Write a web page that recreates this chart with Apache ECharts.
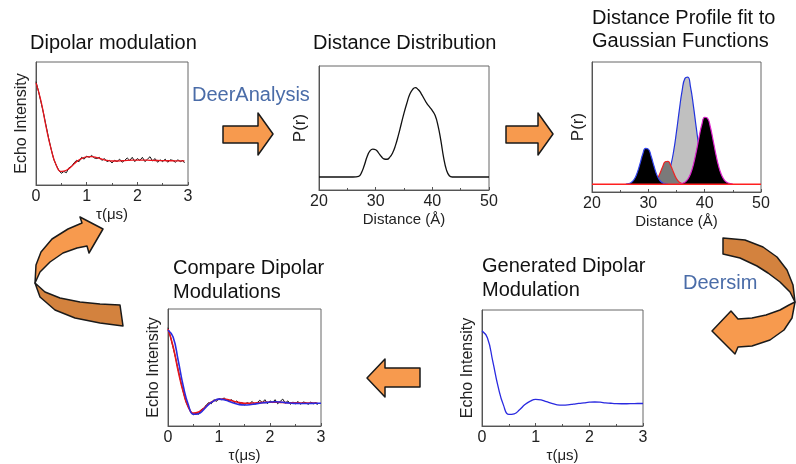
<!DOCTYPE html>
<html>
<head>
<meta charset="utf-8">
<script src="https://cdn.jsdelivr.net/npm/echarts@6/dist/echarts.min.js"></script>
<style>
  html, body { margin: 0; padding: 0; background: #fff; }
  #main { width: 796px; height: 464px; }
</style>
</head>
<body>
<div id="main"></div>
<script>
// time axis (us) and distance axis (A) tick labels
var timeTicks = [0, 1, 2, 3];
var distTicks = [20, 30, 40, 50];

// dipolar modulation: noisy experiment (black), fit (red)
var expTime = [0, 0.05, 0.1, 0.15, 0.2, 0.25, 0.3, 0.35, 0.4, 0.45, 0.5, 0.55, 0.6, 0.65, 0.7, 0.75, 0.8, 0.85, 0.9, 0.95,
  1.0, 1.05, 1.1, 1.15, 1.2, 1.25, 1.3, 1.35, 1.4, 1.45, 1.5, 1.55, 1.6, 1.65, 1.7, 1.75, 1.8, 1.85, 1.9, 1.95,
  2.0, 2.05, 2.1, 2.15, 2.2, 2.25, 2.3, 2.35, 2.4, 2.45, 2.5, 2.55, 2.6, 2.65, 2.7, 2.75, 2.8, 2.85, 2.9, 2.93];
var expEcho = [0.84, 0.76, 0.67, 0.58, 0.48, 0.38, 0.29, 0.21, 0.16, 0.12, 0.095, 0.11, 0.10, 0.14, 0.15, 0.18, 0.20, 0.19, 0.225, 0.21,
  0.235, 0.225, 0.24, 0.22, 0.215, 0.225, 0.20, 0.215, 0.19, 0.20, 0.18, 0.20, 0.19, 0.21, 0.185, 0.20, 0.22, 0.20, 0.225, 0.19,
  0.215, 0.20, 0.225, 0.19, 0.21, 0.23, 0.195, 0.215, 0.185, 0.205, 0.19, 0.21, 0.185, 0.205, 0.20, 0.185, 0.205, 0.19, 0.20, 0.18];
var fitTime = [0, 0.1, 0.2, 0.3, 0.4, 0.5, 0.6, 0.7, 0.8, 0.9, 1.0, 1.1, 1.2, 1.3, 1.4, 1.5, 1.6, 1.7, 1.8, 1.9,
  2.0, 2.1, 2.2, 2.3, 2.4, 2.5, 2.6, 2.7, 2.8, 2.93];
var fitEcho = [0.83, 0.68, 0.47, 0.29, 0.16, 0.11, 0.12, 0.15, 0.19, 0.215, 0.228, 0.23, 0.222, 0.21, 0.20, 0.195, 0.195, 0.197, 0.20, 0.202,
  0.203, 0.203, 0.202, 0.20, 0.199, 0.198, 0.197, 0.197, 0.196, 0.196];

// generated (Deersim) modulation, blue
var simTime = [0, 0.1, 0.2, 0.3, 0.4, 0.5, 0.6, 0.7, 0.8, 0.9, 1.0, 1.1, 1.2, 1.3, 1.4, 1.5, 1.6, 1.7, 1.8, 1.9,
  2.0, 2.1, 2.2, 2.3, 2.4, 2.5, 2.6, 2.7, 2.8, 2.9, 3.0];
var simEcho = [0.82, 0.76, 0.56, 0.34, 0.18, 0.10, 0.105, 0.14, 0.185, 0.215, 0.23, 0.225, 0.21, 0.195, 0.183, 0.18, 0.182, 0.188, 0.195, 0.20,
  0.205, 0.207, 0.205, 0.20, 0.196, 0.193, 0.192, 0.192, 0.193, 0.194, 0.194];

// distance distribution P(r)
var distR = [20, 24, 26, 27, 27.5, 28, 28.5, 29, 29.5, 30, 30.5, 31, 31.5, 32, 32.5, 33, 33.5, 34, 34.5, 35, 35.5, 36, 36.5, 37,
  37.5, 38, 38.5, 39, 39.5, 40, 40.5, 41, 41.5, 42, 42.5, 43, 43.5, 50];
var distP = [0.105, 0.105, 0.105, 0.11, 0.14, 0.2, 0.27, 0.315, 0.33, 0.325, 0.3, 0.27, 0.25, 0.248, 0.265, 0.3, 0.36, 0.44, 0.53, 0.62, 0.7, 0.77, 0.81, 0.825,
  0.81, 0.78, 0.74, 0.70, 0.67, 0.64, 0.60, 0.52, 0.40, 0.26, 0.16, 0.115, 0.105, 0.105];

// gaussian components
var baseP = 0.06;
var g1R = [26, 26.5, 27, 27.5, 28, 28.5, 29, 29.5, 30, 30.5, 31, 31.5, 32, 32.5, 33, 33.5];
var g1P = [0.061, 0.064, 0.074, 0.098, 0.145, 0.214, 0.29, 0.335, 0.33, 0.275, 0.20, 0.133, 0.091, 0.071, 0.063, 0.06];
var g2R = [30.5, 31, 31.5, 32, 32.5, 33, 33.5, 34, 34.5, 35, 35.5, 36, 36.5];
var g2P = [0.064, 0.073, 0.096, 0.137, 0.19, 0.232, 0.236, 0.20, 0.148, 0.102, 0.076, 0.065, 0.06];
var g3R = [32.5, 33, 33.5, 34, 34.5, 35, 35.5, 36, 36.5, 37, 37.5, 38, 38.5, 39, 39.5, 40, 40.5, 41, 41.5];
var g3P = [0.074, 0.094, 0.134, 0.206, 0.316, 0.464, 0.63, 0.78, 0.874, 0.883, 0.804, 0.663, 0.497, 0.343, 0.224, 0.145, 0.10, 0.076, 0.066];
var g4R = [35.5, 36, 36.5, 37, 37.5, 38, 38.5, 39, 39.5, 40, 40.5, 41, 41.5, 42, 42.5, 43, 43.5, 44, 44.5, 45];
var g4P = [0.062, 0.066, 0.076, 0.098, 0.141, 0.211, 0.309, 0.42, 0.519, 0.575, 0.568, 0.502, 0.398, 0.288, 0.195, 0.13, 0.092, 0.073, 0.065, 0.061];

function pairs(xs, ys) {
  return xs.map(function (x, i) { return [x, ys[i]]; });
}

var FONT = 'Liberation Sans, Arial, sans-serif';
var ORANGE = '#f79a4e';
var ORANGE_DK = '#d3823e';
var BLUE_TXT = '#4a6ca8';

function xAxisOf(grid, ticks, name, gap) {
  return {
    type: 'value', gridIndex: grid,
    min: ticks[0], max: ticks[ticks.length - 1], interval: ticks[1] - ticks[0],
    name: name, nameLocation: 'middle', nameGap: gap,
    nameTextStyle: { fontFamily: FONT, fontSize: 15, color: '#222' },
    axisLine: { lineStyle: { color: '#555' } },
    axisTick: { inside: true, length: 3, lineStyle: { color: '#555' } },
    minorTick: { show: true, splitNumber: 2, length: 2, lineStyle: { color: '#555' } },
    axisLabel: { fontFamily: FONT, fontSize: 16, color: '#222', margin: 4 },
    splitLine: { show: false }
  };
}
function yAxisOf(grid, name, gap, size) {
  return {
    type: 'value', gridIndex: grid, min: 0, max: 1,
    name: name, nameLocation: 'middle', nameGap: gap,
    nameTextStyle: { fontFamily: FONT, fontSize: size, color: '#222' },
    axisLine: { show: true, lineStyle: { color: '#555' } },
    axisTick: { show: false }, axisLabel: { show: false },
    splitLine: { show: false }
  };
}
function line(grid, data, color, width, smooth, z) {
  return {
    type: 'line', xAxisIndex: grid, yAxisIndex: grid, data: data,
    smooth: smooth, showSymbol: false, symbol: 'none', z: z || 2,
    lineStyle: { color: color, width: width }
  };
}
function gauss(data, fill, edge, z) {
  return {
    type: 'line', xAxisIndex: 2, yAxisIndex: 2, data: data, smooth: true,
    symbol: 'none', z: z,
    lineStyle: { color: edge, width: 1.2 },
    areaStyle: { color: fill, opacity: 1, origin: baseP }
  };
}
function txt(x, y, s, size, color) {
  return { type: 'text', left: x, top: y, z: 10,
    style: { text: s, fontFamily: FONT, fontSize: size, fill: color || '#111' } };
}
function poly(points, fill) {
  return { type: 'polygon', z: 5,
    shape: { points: points },
    style: { fill: fill, stroke: '#1a1a1a', lineWidth: 1.5, lineJoin: 'round' } };
}

var grids = [
  { left: 36, top: 62, width: 152, height: 123 },
  { left: 319, top: 66, width: 170, height: 124 },
  { left: 592, top: 62, width: 169, height: 130 },
  { left: 482, top: 310, width: 161, height: 120 },
  { left: 168, top: 309, width: 153, height: 121 }
].map(function (g) {
  g.show = true; g.borderColor = '#666'; g.borderWidth = 1; g.containLabel = false;
  return g;
});

var myChart = echarts.init(document.getElementById('main'));
var option = {
  backgroundColor: '#fff',
  animation: false,
  grid: grids,
  xAxis: [
    xAxisOf(0, timeTicks, 'τ(μs)', 22),
    xAxisOf(1, distTicks, 'Distance (Å)', 22),
    xAxisOf(2, distTicks, 'Distance (Å)', 22),
    xAxisOf(3, timeTicks, 'τ(μs)', 22),
    xAxisOf(4, timeTicks, 'τ(μs)', 22)
  ],
  yAxis: [
    yAxisOf(0, 'Echo Intensity', 6, 16),
    yAxisOf(1, 'P(r)', 10, 17),
    yAxisOf(2, 'P(r)', 5, 17),
    yAxisOf(3, 'Echo Intensity', 6, 16),
    yAxisOf(4, 'Echo Intensity', 6, 16)
  ],
  series: [
    line(0, pairs(expTime, expEcho), '#111', 1, false, 2),
    line(0, pairs(fitTime, fitEcho), '#e8141c', 1.3, true, 3),

    line(1, pairs(distR, distP), '#111', 1.3, true, 2),

    gauss(pairs(g3R, g3P), '#c0c0c0', '#2233dd', 2),
    gauss(pairs(g2R, g2P), '#7a7a7a', '#ee2222', 3),
    gauss(pairs(g1R, g1P), '#000', '#3344ee', 4),
    gauss(pairs(g4R, g4P), '#000', '#dd22cc', 4),
    line(2, [[20, baseP], [50, baseP]], '#ff2020', 1.5, false, 6),

    line(3, pairs(simTime, simEcho), '#2a2ae0', 1.3, true, 2),

    line(4, pairs(expTime, expEcho), '#111', 1, false, 2),
    line(4, pairs(fitTime, fitEcho), '#e8141c', 1.6, true, 3),
    line(4, pairs(simTime, simEcho), '#2a2ae0', 1.6, true, 4)
  ],
  graphic: [
    txt(30, 33, 'Dipolar modulation', 20),
    txt(313, 33, 'Distance Distribution', 20),
    txt(592, 8, 'Distance Profile fit to', 20),
    txt(592, 31, 'Gaussian Functions', 20),
    txt(173, 258, 'Compare Dipolar', 20),
    txt(173, 282, 'Modulations', 20),
    txt(482, 256, 'Generated Dipolar', 20),
    txt(482, 280, 'Modulation', 20),
    txt(192, 85, 'DeerAnalysis', 20, BLUE_TXT),
    txt(683, 273, 'Deersim', 20, BLUE_TXT),

    // straight arrows
    poly([[223, 126], [258, 126], [258, 113], [273, 134], [258, 155], [258, 143], [223, 143]], ORANGE),
    poly([[506, 126], [538, 126], [538, 113], [553, 134], [538, 155], [538, 143], [506, 143]], ORANGE),
    poly([[367, 378], [385, 359], [385, 368], [420, 368], [420, 387], [385, 387], [385, 397]], ORANGE),

    // left curved arrow
    poly([[35, 283], [40, 297], [55, 310], [75, 318], [100, 323], [123, 326], [120, 305], [100, 304], [80, 302], [60, 298], [45, 292]], ORANGE_DK),
    poly([[103, 229], [89, 253], [87, 246], [77, 248], [63, 253], [50, 262], [40, 272], [35, 283], [36, 265], [41, 252], [52, 239], [68, 229], [82, 223], [80, 217]], ORANGE),

    // right curved arrow
    poly([[723, 238], [745, 240], [763, 247], [777, 257], [787, 270], [793, 285], [795, 302], [790, 292], [780, 282], [768, 273], [757, 266], [740, 258], [723, 254]], ORANGE_DK),
    poly([[795, 302], [792, 318], [784, 330], [770, 340], [752, 346], [738, 347], [735, 354], [712, 331], [731, 311], [738, 319], [752, 318], [766, 315], [780, 310], [789, 305]], ORANGE)
  ]
};
myChart.setOption(option);
</script>
</body>
</html>
